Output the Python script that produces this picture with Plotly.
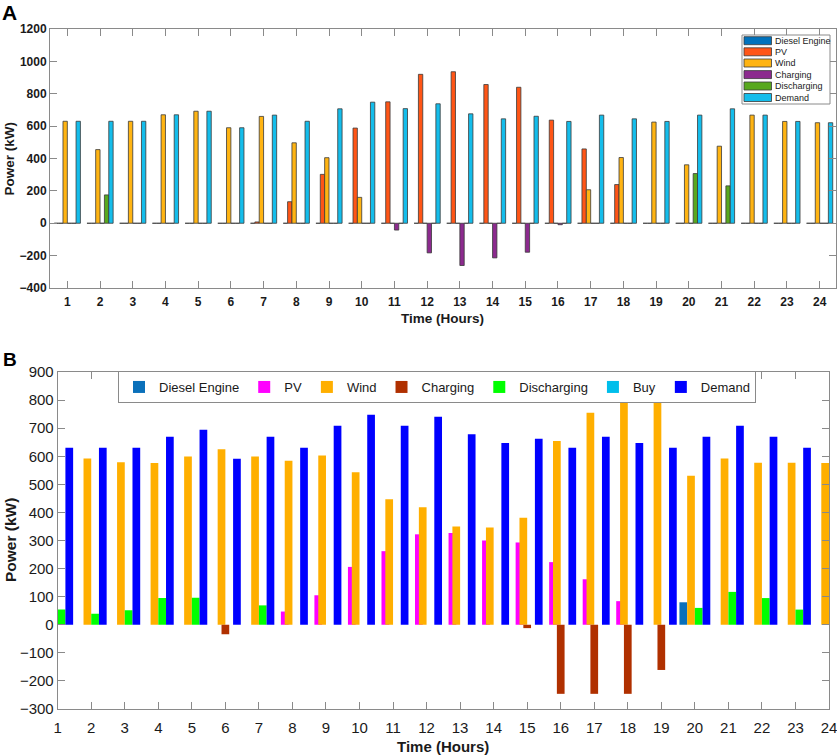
import plotly.graph_objects as go

W, H = 837, 755
hours = list(range(1, 25))
hour_labels = [str(h) for h in hours]

# ---------- Panel A data (kW) ----------
a_series = ["Diesel Engine", "PV", "Wind", "Charging", "Discharging", "Demand"]
a_diesel = [0] * 24
a_pv = [0, 0, 0, 0, 0, 0, 8, 133, 302, 588, 750, 920, 936, 857, 840, 637, 459, 239, 0, 0, 0, 0, 0, 0]
a_wind = [630, 455, 630, 670, 692, 590, 660, 497, 405, 160, 0, 0, 0, 0, 0, 0, 207, 406, 625, 361, 476, 668, 629, 621]
a_charging = [0, 0, 0, 0, 0, 0, 0, 0, 0, 0, -42, -183, -261, -214, -179, -9, 0, 0, 0, 0, 0, 0, 0, 0]
a_discharging = [0, 175, 0, 0, 0, 0, 0, 0, 0, 0, 0, 0, 0, 0, 0, 0, 0, 0, 0, 307, 231, 0, 0, 0]
a_demand = [630, 630, 630, 670, 692, 590, 668, 630, 707, 748, 708, 738, 676, 645, 661, 629, 668, 645, 629, 668, 707, 668, 629, 621]
a_colors = ["#0072BD", "#FF5516", "#FFB412", "#8C2A8E", "#58A81E", "#14BDEB"]

# ---------- Panel B data (kW) ----------
b_series = ["Diesel Engine", "PV", "Wind", "Charging", "Discharging", "Buy", "Demand"]
b_diesel = [0, 0, 0, 0, 0, 0, 0, 0, 0, 0, 0, 0, 0, 0, 0, 0, 0, 0, 0, 80, 0, 0, 0, 0]
b_pv = [0, 0, 0, 0, 0, 0, 0, 47, 105, 206, 262, 322, 327, 300, 293, 223, 162, 84, 0, 0, 0, 0, 0, 0]
b_wind = [576, 592, 579, 576, 599, 625, 599, 584, 603, 543, 447, 418, 350, 346, 381, 654, 755, 810, 790, 531, 592, 577, 577, 576]
b_charging = [0, 0, 0, 0, 0, -34, 0, 0, 0, 0, 0, 0, 0, 0, -12, -246, -246, -246, -161, 0, 0, 0, 0, 0]
b_discharging = [54, 39, 52, 95, 96, 0, 69, 0, 0, 0, 0, 0, 0, 0, 0, 0, 0, 0, 0, 60, 117, 95, 54, 54]
b_buy = [0] * 24
b_demand = [630, 630, 630, 669, 694, 591, 669, 630, 709, 748, 709, 741, 678, 647, 662, 630, 669, 647, 630, 669, 709, 669, 630, 630]
b_colors = ["#0A70BA", "#FF00FF", "#FFAF00", "#B03000", "#00FF00", "#00BEEB", "#0000FF"]

FONT = "Liberation Sans, Arial, sans-serif"
AXIS_GRAY = "#8a8a8a"
TEXT = "#1a1a1a"

def px_x(p):
    return p / W

def px_y(p):
    return 1 - p / H

fig = go.Figure()

# Panel A: 6 grouped bars, slot width 0.8/6, touching
a_vals = [a_diesel, a_pv, a_wind, a_charging, a_discharging, a_demand]
na = len(a_vals)
slot_a = 0.8 / na
for i, (name, vals, col) in enumerate(zip(a_series, a_vals, a_colors)):
    center = (i - (na - 1) / 2) * slot_a
    fig.add_trace(go.Bar(
        x=hours, y=vals, name=name, xaxis="x", yaxis="y",
        width=slot_a, offset=center - slot_a / 2,
        marker=dict(color=col, line=dict(color="#3a3a3a", width=0.8)),
        showlegend=False,
    ))

# Panel B: 7 overlapping bars (each 2 slots wide), later drawn on top
b_vals = [b_diesel, b_pv, b_wind, b_charging, b_discharging, b_buy, b_demand]
nb = len(b_vals)
slot_b = 0.115
width_b = 2 * slot_b
for i, (name, vals, col) in enumerate(zip(b_series, b_vals, b_colors)):
    center = (i - (nb - 1) / 2) * slot_b
    fig.add_trace(go.Bar(
        x=hours, y=vals, name=name, xaxis="x2", yaxis="y2",
        width=width_b, offset=center - width_b / 2,
        marker=dict(color=col, line=dict(width=0)),
        legend="legend",
    ))

common_axis = dict(
    showline=True, linecolor=AXIS_GRAY, linewidth=1, mirror="ticks",
    ticks="inside", tickcolor=AXIS_GRAY, showgrid=False, zeroline=False,
    automargin=False, ticklabeloverflow="allow",
)

# Panel A legend box (compact, like the original), drawn in paper space
shapes = []
annotations = []
lx0, lx1, ly0, ly1 = 742, 830, 35, 104
shapes.append(dict(type="rect", xref="paper", yref="paper",
                   x0=px_x(lx0), x1=px_x(lx1), y0=px_y(ly1), y1=px_y(ly0),
                   fillcolor="white", line=dict(color=AXIS_GRAY, width=1), layer="above"))
row_centers = [40.7, 51.8, 63.0, 74.6, 86.0, 97.5]
for name, col, yc in zip(a_series, a_colors, row_centers):
    shapes.append(dict(type="rect", xref="paper", yref="paper",
                       x0=px_x(744), x1=px_x(771.5), y0=px_y(yc + 4), y1=px_y(yc - 4),
                       fillcolor=col, line=dict(color="#3a3a3a", width=0.8), layer="above"))
    annotations.append(dict(text=name, x=px_x(773), y=px_y(yc), xref="paper", yref="paper",
                            xanchor="left", yanchor="middle", showarrow=False,
                            font=dict(size=9, family=FONT, color=TEXT)))

annotations += [
    dict(text="<b>A</b>", x=px_x(0), y=px_y(-1), xref="paper", yref="paper",
         xanchor="left", yanchor="top", showarrow=False,
         font=dict(size=21, family=FONT, color="black")),
    dict(text="<b>B</b>", x=px_x(1), y=px_y(347), xref="paper", yref="paper",
         xanchor="left", yanchor="top", showarrow=False,
         font=dict(size=19, family=FONT, color="black")),
    dict(text="<b>Time (Hours)</b>", x=px_x(443), y=px_y(318), xref="paper", yref="paper",
         xanchor="center", yanchor="middle", showarrow=False,
         font=dict(size=13.5, family=FONT, color=TEXT)),
    dict(text="<b>Power (kW)</b>", x=px_x(9), y=px_y(158.5), xref="paper", yref="paper",
         xanchor="center", yanchor="middle", showarrow=False, textangle=-90,
         font=dict(size=13.5, family=FONT, color=TEXT)),
    dict(text="<b>Time (Hours)</b>", x=px_x(443), y=px_y(746), xref="paper", yref="paper",
         xanchor="center", yanchor="middle", showarrow=False,
         font=dict(size=15, family=FONT, color=TEXT)),
    dict(text="<b>Power (kW)</b>", x=px_x(10), y=px_y(540), xref="paper", yref="paper",
         xanchor="center", yanchor="middle", showarrow=False, textangle=-90,
         font=dict(size=15.5, family=FONT, color=TEXT)),
]

fig.update_layout(
    width=W, height=H,
    margin=dict(l=0, r=0, t=0, b=0),
    paper_bgcolor="white", plot_bgcolor="white",
    barmode="overlay",
    font=dict(family=FONT, color=TEXT),
    xaxis=dict(
        **common_axis, domain=[px_x(50), px_x(836)], anchor="y",
        range=[0.47, 24.5], tickmode="array", tickvals=hours, ticktext=hour_labels,
        ticklen=7, tickfont=dict(size=12, family=FONT, weight="bold", color=TEXT),
        ticklabelstandoff=3,
    ),
    yaxis=dict(
        **common_axis, domain=[px_y(288), px_y(29)], anchor="x",
        range=[-400, 1200], tickmode="array", tickvals=list(range(-400, 1201, 200)),
        ticklen=7, tickfont=dict(size=12, family=FONT, weight="bold", color=TEXT),
    ),
    xaxis2=dict(
        **common_axis, domain=[px_x(57.7), px_x(829)], anchor="y2",
        range=[1, 24], tickmode="array", tickvals=hours, ticktext=hour_labels,
        ticklen=7, tickfont=dict(size=15, family=FONT, color=TEXT),
        ticklabelstandoff=5,
    ),
    yaxis2=dict(
        **common_axis, domain=[px_y(709), px_y(372)], anchor="x2",
        range=[-300, 900], tickmode="array", tickvals=list(range(-300, 901, 100)),
        ticklen=7, tickfont=dict(size=15, family=FONT, color=TEXT),
    ),
    legend=dict(
        orientation="h",
        x=px_x(118), y=px_y(371), xanchor="left", yanchor="top",
        bgcolor="white", bordercolor=AXIS_GRAY, borderwidth=1,
        font=dict(size=13, family=FONT, color=TEXT),
        itemsizing="constant",
    ),
    shapes=shapes,
    annotations=annotations,
)

fig.write_html(
    "out.html",
    config={"displayModeBar": False},
    post_script="document.body.style.margin='0px';document.body.style.padding='0px';"
                "document.body.style.overflow='hidden';",
)
